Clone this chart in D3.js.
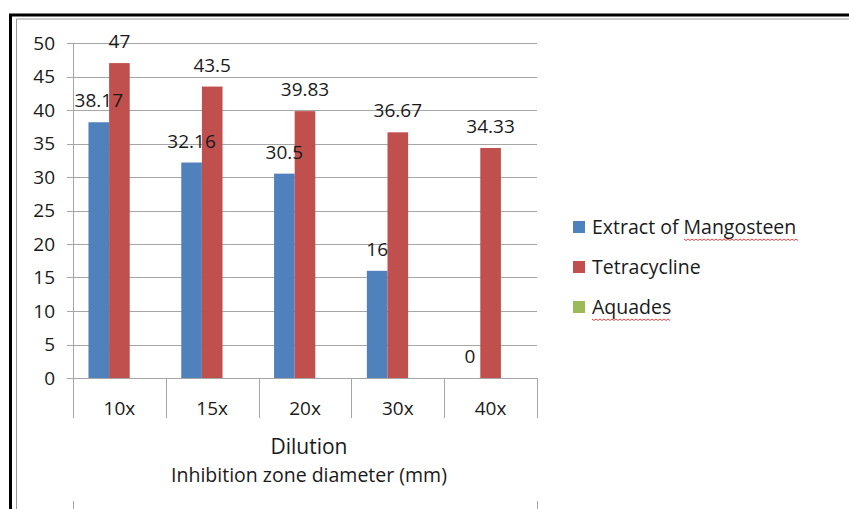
<!DOCTYPE html>
<html>
<head>
<meta charset="utf-8">
<script src="https://cdn.jsdelivr.net/npm/d3@7"></script>
<style>
  body { margin: 0; background: #fff; }
  text { font-family: "Open Sans", "Liberation Sans", sans-serif; fill: #1a1a1a; }
</style>
</head>
<body>
<div id="chart"></div>
<script>
const categories = ["10x", "15x", "20x", "30x", "40x"];
const seriesNames = ["Extract of Mangosteen", "Tetracycline", "Aquades"];
const mangosteen = [38.17, 32.16, 30.5, 16, 0];
const tetracycline = [47, 43.5, 39.83, 36.67, 34.33];
const aquades = [0, 0, 0, 0, 0];
const yTicks = [0, 5, 10, 15, 20, 25, 30, 35, 40, 45, 50];
const colors = ["#4F81BD", "#C0504D", "#9BBB59"];

const width = 849, height = 509;
const plot = { left: 73, right: 537, top: 43, bottom: 378 };

const svg = d3.select("#chart").append("svg")
    .attr("width", width)
    .attr("height", height);

// frame (black outer, gray inner)
svg.append("path")
    .attr("d", `M10.5,${height} V15 H${width}`)
    .attr("fill", "none").attr("stroke", "#000").attr("stroke-width", 3);
svg.append("path")
    .attr("d", `M16.5,${height} V19 H${width}`)
    .attr("fill", "none").attr("stroke", "#9a9a9a").attr("stroke-width", 1);

const x = d3.scaleBand()
    .domain(categories)
    .range([plot.left, plot.right]);

const y = d3.scaleLinear()
    .domain([0, 50])
    .range([plot.bottom, plot.top]);

const barW = x.bandwidth() / 4.5;
const xs = d3.scaleBand()
    .domain(seriesNames)
    .range([barW * 0.75, barW * 3.75]);

// gridlines
svg.append("g")
    .selectAll("line")
    .data(yTicks)
    .enter().append("line")
    .attr("x1", plot.left - 6)
    .attr("x2", plot.right)
    .attr("y1", d => Math.round(y(d)) + 0.5)
    .attr("y2", d => Math.round(y(d)) + 0.5)
    .attr("stroke", "#a6a6a6");

// y axis line
svg.append("line")
    .attr("x1", plot.left + 0.5).attr("x2", plot.left + 0.5)
    .attr("y1", plot.top).attr("y2", plot.bottom)
    .attr("stroke", "#a6a6a6");

// y tick labels
svg.append("g")
    .selectAll("text")
    .data(yTicks)
    .enter().append("text")
    .attr("x", 55)
    .attr("y", d => y(d))
    .attr("dy", "0.36em")
    .attr("text-anchor", "end")
    .style("font-size", "19px")
    .text(d => d);

// category separators below axis
const bounds = categories.map(c => x(c)).concat([plot.right]);
svg.append("g")
    .selectAll("line")
    .data(bounds)
    .enter().append("line")
    .attr("x1", d => Math.round(d) + 0.5)
    .attr("x2", d => Math.round(d) + 0.5)
    .attr("y1", plot.bottom)
    .attr("y2", plot.bottom + 40)
    .attr("stroke", "#a6a6a6");

// bits at the very bottom
svg.append("g")
    .selectAll("line")
    .data([plot.left, plot.right])
    .enter().append("line")
    .attr("x1", d => d + 0.5).attr("x2", d => d + 0.5)
    .attr("y1", 501).attr("y2", 509)
    .attr("stroke", "#a6a6a6");

// category labels
svg.append("g")
    .selectAll("text")
    .data(categories)
    .enter().append("text")
    .attr("x", d => x(d) + x.bandwidth() / 2)
    .attr("y", 408)
    .attr("dy", "0.36em")
    .attr("text-anchor", "middle")
    .style("font-size", "19px")
    .text(d => d);

// bars
const seriesData = [mangosteen, tetracycline, aquades];
seriesData.forEach((vals, si) => {
    svg.append("g")
        .selectAll("rect")
        .data(vals)
        .enter().append("rect")
        .attr("x", (d, i) => x(categories[i]) + xs(seriesNames[si]))
        .attr("y", d => y(d))
        .attr("width", xs.bandwidth())
        .attr("height", d => y(0) - y(d))
        .attr("fill", colors[si]);
});

// axis baseline on top of bars
svg.append("line")
    .attr("x1", plot.left).attr("x2", plot.right)
    .attr("y1", plot.bottom + 0.5).attr("y2", plot.bottom + 0.5)
    .attr("stroke", "#a6a6a6");

// data labels (first two series only)
[mangosteen, tetracycline].forEach((vals, si) => {
    svg.append("g")
        .selectAll("text")
        .data(vals)
        .enter().append("text")
        .attr("x", (d, i) => x(categories[i]) + xs(seriesNames[si]) + xs.bandwidth() / 2)
        .attr("y", d => y(d) - 15)
        .attr("text-anchor", "middle")
        .style("font-size", "19px")
        .text(d => d);
});

// axis titles
svg.append("text")
    .attr("x", (plot.left + plot.right) / 2 + 4)
    .attr("y", 454)
    .attr("text-anchor", "middle")
    .style("font-size", "21px")
    .text("Dilution");
svg.append("text")
    .attr("x", (plot.left + plot.right) / 2 + 4)
    .attr("y", 482)
    .attr("text-anchor", "middle")
    .style("font-size", "19.5px")
    .text("Inhibition zone diameter (mm)");

// legend
const legend = svg.append("g").attr("transform", "translate(573, 227)");
seriesNames.forEach((name, i) => {
    const row = legend.append("g").attr("transform", `translate(0, ${i * 40})`);
    row.append("rect")
        .attr("x", 0).attr("y", -6)
        .attr("width", 12).attr("height", 12)
        .attr("fill", colors[i]);
    row.append("text")
        .attr("x", 19)
        .attr("y", 0)
        .attr("dy", "0.36em")
        .style("font-size", "19.5px")
        .text(name);
});

// spell-check squiggles under "Mangosteen" and "Aquades"
function squiggle(x0, x1, yy) {
    let d = `M${x0},${yy}`;
    for (let xx = x0, k = 0; xx < x1; xx += 2, k++) {
        d += ` L${xx + 2},${yy + (k % 2 === 0 ? 1.5 : 0)}`;
    }
    legend.append("path").attr("d", d)
        .attr("fill", "none").attr("stroke", "#e03030").attr("stroke-width", 0.9);
}
squiggle(111, 224, 12);
squiggle(19, 97, 92);
</script>
</body>
</html>
